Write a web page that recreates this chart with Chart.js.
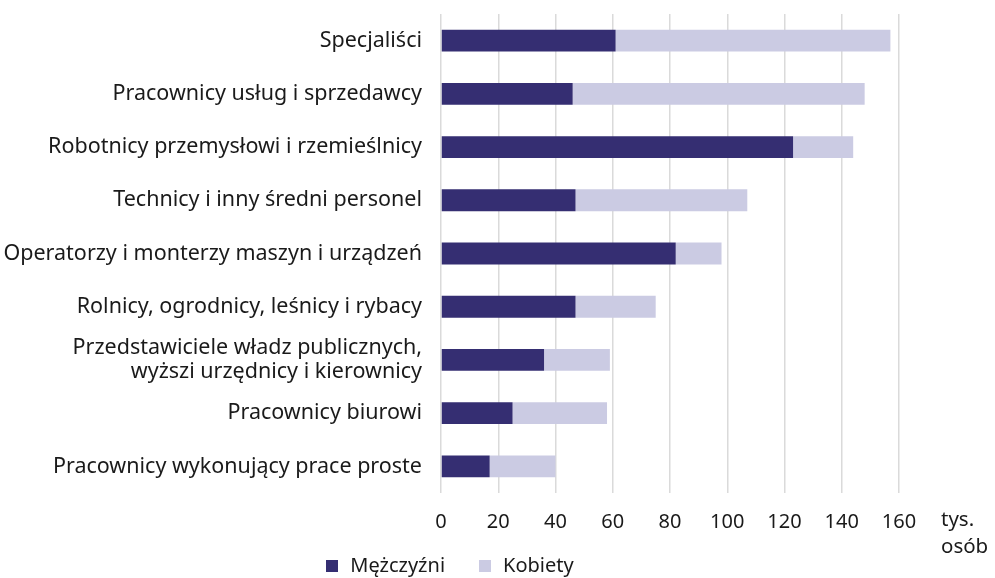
<!DOCTYPE html>
<html lang="pl">
<head>
  <meta charset="UTF-8">
  <title>Pracujący według grup zawodów</title>
  <script src="https://cdn.jsdelivr.net/npm/chart.js"></script>
  <style>
    html, body { margin: 0; padding: 0; background: #fff; }
    .wrap { position: relative; width: 995px; height: 578px; }
    .legend {
      position: absolute; left: 0; width: 900px; top: 552px;
      text-align: center; font: 20px "Noto Sans", sans-serif; color: #1a1a1a;
      line-height: 26px; white-space: nowrap;
    }
    .legend span.item { display: inline-block; margin: 0 17px; }
    .legend span.box {
      display: inline-block; width: 12px; height: 12px; margin-right: 12px;
      vertical-align: 0px;
    }
  </style>
</head>
<body>
<div class="wrap">
  <canvas id="occChart"></canvas>
  <div class="legend" id="legend"></div>
</div>

<script>
  // dane (tys. osób)
  const categories = [
    'Specjaliści',
    'Pracownicy usług i sprzedawcy',
    'Robotnicy przemysłowi i rzemieślnicy',
    'Technicy i inny średni personel',
    'Operatorzy i monterzy maszyn i urządzeń',
    'Rolnicy, ogrodnicy, leśnicy i rybacy',
    ['Przedstawiciele władz publicznych,', 'wyższi urzędnicy i kierownicy'],
    'Pracownicy biurowi',
    'Pracownicy wykonujący prace proste'
  ];
  const men   = [61, 46, 123, 47, 82, 47, 36, 25, 17];
  const women = [96, 102, 21, 60, 16, 28, 23, 33, 23];
  const xTicks = [0, 20, 40, 60, 80, 100, 120, 140, 160];
  const unitLines = ['tys.', 'osób'];

  const FONT = '"Noto Sans", sans-serif';
  const TXT = '#1a1a1a';

  // jednostka osi po prawej stronie
  const unitLabel = {
    id: 'unitLabel',
    afterDraw(chart) {
      const { ctx, chartArea } = chart;
      ctx.save();
      ctx.font = '20.5px ' + FONT;
      ctx.fillStyle = TXT;
      ctx.textAlign = 'left';
      ctx.textBaseline = 'middle';
      unitLines.forEach((t, i) => ctx.fillText(t, 941, chartArea.bottom + 27 + i * 27));
      ctx.restore();
    }
  };

  const chart = new Chart(document.getElementById('occChart'), {
    type: 'bar',
    data: {
      labels: categories,
      datasets: [
        { label: 'Mężczyźni', data: men, backgroundColor: '#352e72' },
        { label: 'Kobiety', data: women, backgroundColor: '#cbcbe3' }
      ]
    },
    options: {
      indexAxis: 'y',
      responsive: true,
      maintainAspectRatio: false,
      animation: false,
      layout: { padding: { top: 14, right: 96, left: 0, bottom: 29 } },
      datasets: { bar: { categoryPercentage: 0.82, barPercentage: 0.5 } },
      scales: {
        x: {
          stacked: true,
          min: 0,
          max: 160,
          afterBuildTicks(scale) { scale.ticks = xTicks.map(v => ({ value: v })); },
          afterFit(scale) { scale.height = 56; },
          grid: { color: '#dadada', lineWidth: 1.5, drawTicks: false },
          border: { display: false },
          ticks: { color: TXT, font: { family: FONT, size: 20 }, padding: 17, maxRotation: 0 }
        },
        y: {
          stacked: true,
          afterFit(scale) { scale.width = 441; scale.paddingTop = 0; scale.paddingBottom = 0; },
          grid: { display: false, drawTicks: false },
          border: { display: false },
          ticks: { color: TXT, font: { family: FONT, size: 21.5, lineHeight: 1.12 }, padding: 19, autoSkip: false }
        }
      },
      plugins: {
        legend: { display: false },
        tooltip: { enabled: false }
      }
    },
    plugins: [unitLabel]
  });

  // legenda HTML z danych serii
  document.getElementById('legend').innerHTML = chart.data.datasets.map(ds =>
    '<span class="item"><span class="box" style="background:' + ds.backgroundColor + '"></span>' + ds.label + '</span>'
  ).join('');
</script>
</body>
</html>
